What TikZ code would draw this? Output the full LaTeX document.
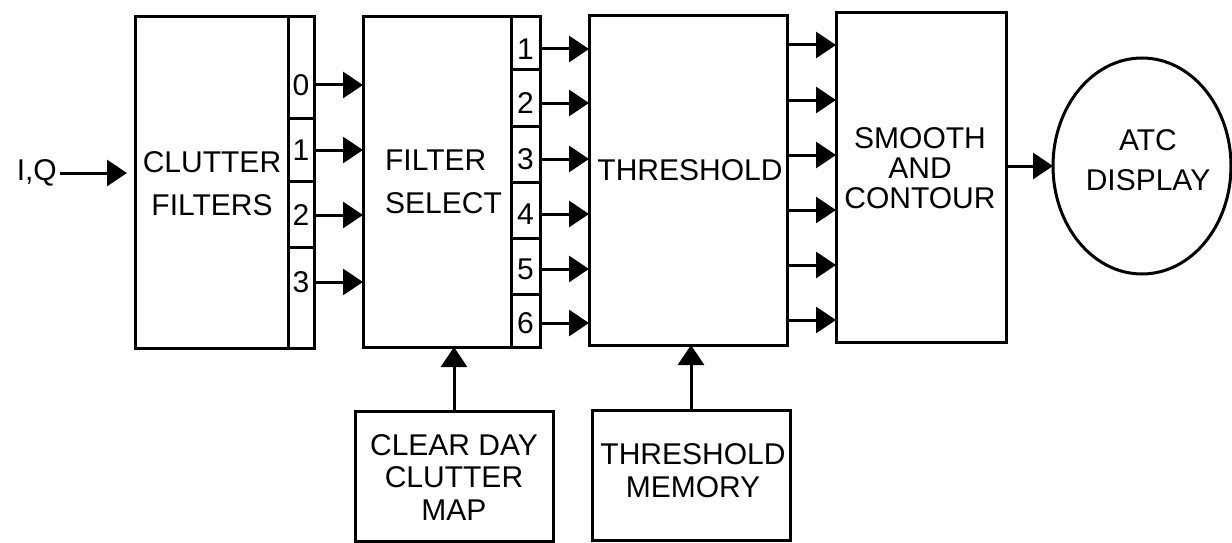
\documentclass[tikz,border=0pt]{standalone}
\usepackage{fontspec}
\setmainfont{Liberation Sans}
\usetikzlibrary{positioning}
\usetikzlibrary{arrows.meta}
\usetikzlibrary{shapes.geometric}

\begin{document}
\begin{tikzpicture}[%
  >={Triangle[length=20pt,width=26pt]},
  x=1pt, y=-1pt,
  box/.style={draw, line width=3pt, inner sep=0pt, outer sep=0pt},
  lbl/.style={align=center, inner sep=0pt, font=\fontsize{30}{#1}\selectfont},
  lbl/.default=43,
  num/.style={inner sep=0pt, minimum width=#1, font=\fontsize{30}{30}\selectfont},
  link/.style={->, line width=3pt}
]

  \useasboundingbox (0,0) rectangle (1232,543);

  \node[box, minimum width=153pt, minimum height=331pt] (cf) at (211.5,182.5) {};
  \node[box, minimum width=148pt, minimum height=330pt] (fs) at (437,182) {};
  \node[box, minimum width=198pt, minimum height=329pt] (th) at (688,180.5) {};
  \node[box, minimum width=170pt, minimum height=329pt] (sm) at (921,177.5) {};
  \node[box, ellipse, minimum width=178pt, minimum height=216pt] (atc) at (1142,166) {};
  \node[box, minimum width=198pt, minimum height=130pt] (cd) at (454,476) {};
  \node[box, minimum width=198pt, minimum height=130pt] (tm) at (691,475) {};

  \node[lbl] (cftxt) at (212,183.5) {CLUTTER\\FILTERS};
  \node[lbl, align=left] (fstxt) at (443.5,181.5) {FILTER\\SELECT};
  \node[lbl] (thtxt) at (690,170) {THRESHOLD};
  \node[lbl=30] (smtxt) at (920,168) {SMOOTH\\AND\\CONTOUR};
  \node[lbl=40] (atctxt) at (1148,160) {ATC\\DISPLAY};
  \node[lbl=32.5] (cdtxt) at (454,477.5) {CLEAR DAY\\CLUTTER\\MAP};
  \node[lbl=33] (tmtxt) at (693,471) {THRESHOLD\\MEMORY};

  % output tabs
  \draw[line width=3pt] (cf.north east) rectangle ++(26,331);
  \foreach \y in {118,181,247}
    \draw[line width=3pt] (cf.east |- 0,\y) -- ++(26,0);
  \draw[line width=3pt] (fs.north east) rectangle ++(29,330);
  \foreach \y in {70,126,182,238,294}
    \draw[line width=3pt] (fs.east |- 0,\y) -- ++(29,0);

  \node[lbl, anchor=east] (iq) at (57,173) {I,Q};
  \draw[link, shorten >=8pt] (iq.east) ++(3,0) -- (iq.east -| cf.west);

  \foreach \n/\y in {0/85,1/150,2/215,3/282} {
    \node[num=26pt] (cf\n) at (301,\y) {\n};
    \draw[link] (cf\n.east) -- (cf\n.east -| fs.west);
  }

  \foreach \n/\y in {1/49,2/103,3/159,4/214,5/269,6/323} {
    \node[num=29pt] (fs\n) at (525.5,\y) {\n};
    \draw[link] (fs\n.east) -- (fs\n.east -| th.west);
  }

  \foreach \y in {45,100,155,210,265,320}
    \draw[link] (th.east |- 0,\y) -- (sm.west |- 0,\y);

  \draw[link] (sm.east |- atc.west) -- (atc.west);
  \draw[link] (cd.north) -- (cd.north |- fs.south);
  \draw[link] (tm.north) -- (tm.north |- th.south);

\end{tikzpicture}
\end{document}
